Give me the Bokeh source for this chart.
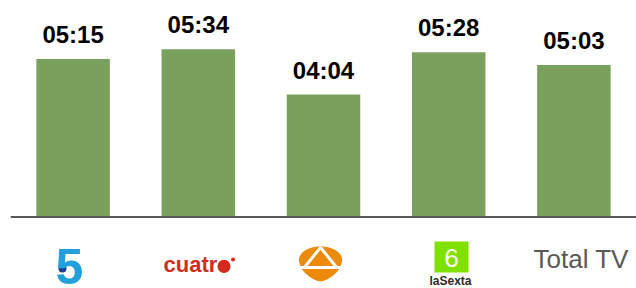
import numpy as np
from bokeh.plotting import figure
from bokeh.models import ColumnDataSource, LabelSet, Label, Range1d, Span
from bokeh.core.properties import value
from bokeh.embed import file_html
from bokeh.resources import INLINE

# ---- data ----
channels = ["Telecinco", "Cuatro", "Antena 3", "laSexta", "Total TV"]
durations = ["05:15", "05:34", "04:04", "05:28", "05:03"]  # mm:ss per channel
seconds = [int(d.split(":")[0]) * 60 + int(d.split(":")[1]) for d in durations]
pos = list(range(len(channels)))

BAR_COLOR = "#7aa05e"
W, H = 636, 288

src = ColumnDataSource(dict(x=pos, ch=channels, sec=seconds, lab=durations))

p = figure(width=W, height=H, x_range=Range1d(-0.5, len(channels) - 0.5),
           y_range=Range1d(-142.4, 431.3), output_backend="svg",
           toolbar_location=None, min_border_left=10, min_border_right=0,
           min_border_top=0, min_border_bottom=0)
p.outline_line_color = None
p.xgrid.visible = False
p.ygrid.visible = False
p.xaxis.visible = False
p.yaxis.visible = False
p.background_fill_color = "white"
p.border_fill_color = "white"

p.vbar(x="x", top="sec", bottom=0, width=0.587, source=src,
       fill_color=BAR_COLOR, line_color=None)

p.add_layout(Span(location=0, dimension="width", line_color="#5a5a5a", line_width=2))

p.add_layout(LabelSet(x="x", y="sec", text="lab", source=src, y_offset=16,
                      text_align="center", text_baseline="alphabetic",
                      text_font=value("Liberation Sans"), text_font_style="bold",
                      text_font_size="24px", text_color="black"))

# ---- logo row (pixel coordinate ranges; y measured from the bottom) ----
p.extra_x_ranges = {"px": Range1d(10, 636)}
p.extra_y_ranges = {"py": Range1d(0, H)}
kw = dict(x_range_name="px", y_range_name="py")


def Y(v):
    v = np.asarray(v, dtype=float)
    return H - v


def lab(x, y, txt, size, color, bold=False, align="center"):
    # place the text so that its baseline sits at page row y
    p.add_layout(Label(x=x, y=float(Y(y - 0.3465 * size)), text=txt, text_align=align,
                       text_baseline="middle", text_font="Liberation Sans",
                       text_font_style="bold" if bold else "normal",
                       text_font_size=f"{size}px", text_color=color, **kw))


# Telecinco
lab(69, 283, "5", 50, "#23a0dc", bold=True)
p.scatter(x=[62], y=Y([268]), size=8, fill_color="#1b3f8b", line_color=None, **kw)

# Cuatro
lab(163, 272, "cuatro", 22, "#d52b1e", bold=True, align="left")
p.scatter(x=[223.5], y=Y([266]), size=13, fill_color="#d52b1e", line_color=None, **kw)
p.scatter(x=[232.5], y=Y([259]), size=4, fill_color="#d52b1e", line_color=None, **kw)

# Antena 3
cx, cy, rx = 320.0, 259.0, 21.5
t1 = np.linspace(np.pi, 0, 40)
xa = cx + rx * np.cos(t1)
ya = cy - 13 * np.sin(t1)
t2 = np.linspace(0, np.pi, 40)
c = np.cos(t2)
xb = cx + rx * np.sign(c) * np.abs(c) ** 1.4
yb = cy + 22 * np.sin(t2)
p.patch(x=np.concatenate([xa, xb]), y=Y(np.concatenate([ya, yb])),
        fill_color="#ec8a0c", line_color=None, **kw)
p.multi_line(xs=[[303, 320, 337], [299, 341]],
             ys=[list(Y([268, 247, 268])), list(Y([267, 267]))],
             line_color="white", line_width=3, **kw)

# laSexta
p.quad(left=[434], right=[468], top=Y([241]), bottom=Y([272]), fill_color="#80e000",
       line_color=None, **kw)
lab(451, 267, "6", 26, "white")
lab(450, 285, "laSexta", 12, "#2b2b2b", bold=True)

# Total TV
lab(533, 268, "Total TV", 26, "#595959", align="left")

open("out.html", "w").write(file_html(p, INLINE))
